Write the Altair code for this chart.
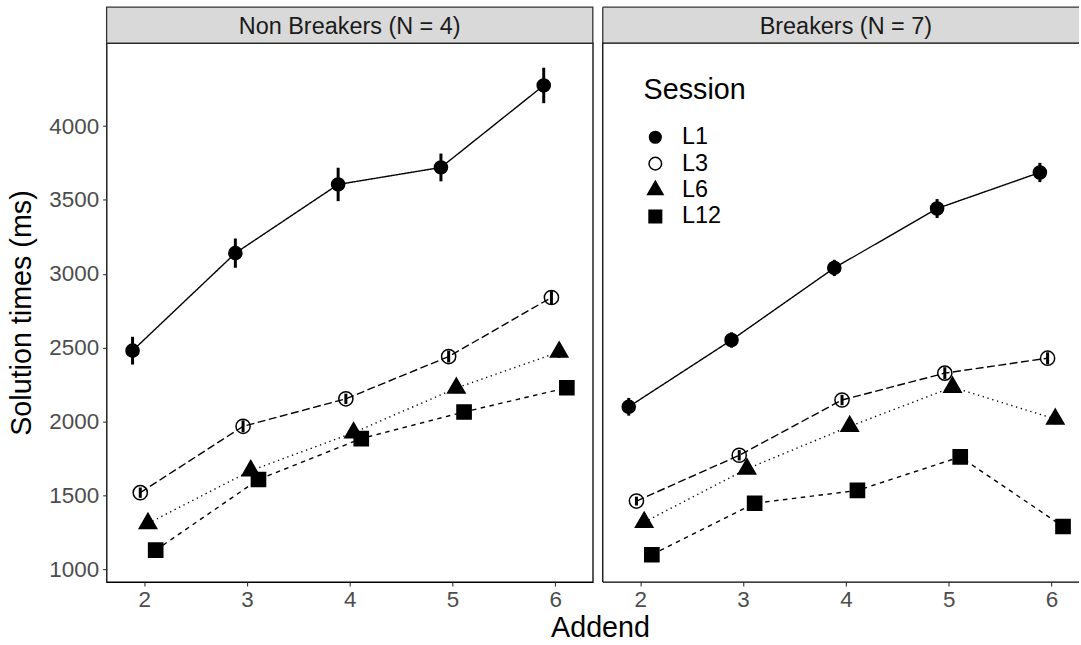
import altair as alt
import pandas as pd

panels = ["Non Breakers (N = 4)", "Breakers (N = 7)"]
sessions = ["L1", "L3", "L6", "L12"]
addends = [2, 3, 4, 5, 6]
y_ticks = [1000, 1500, 2000, 2500, 3000, 3500, 4000]

# Non Breakers: mean solution time and error (ms)
nb_L1 = [2480, 3140, 3605, 3720, 4275]
nb_L3 = [1519, 1968, 2154, 2440, 2840]
nb_L6 = [1311, 1668, 1925, 2227, 2471]
nb_L12 = [1130, 1608, 1885, 2065, 2229]
nb_L1_se = [94, 99, 113, 94, 120]
nb_L3_se = [35, 40, 35, 40, 45]
nb_L6_se = [30, 30, 35, 35, 40]
nb_L12_se = [25, 30, 30, 30, 35]

# Breakers
b_L1 = [2100, 2552, 3040, 3442, 3686]
b_L3 = [1462, 1772, 2146, 2328, 2429]
b_L6 = [1319, 1680, 1968, 2233, 2017]
b_L12 = [1099, 1447, 1534, 1761, 1290]
b_L1_se = [60, 52, 55, 64, 65]
b_L3_se = [30, 35, 35, 40, 40]
b_L6_se = [25, 30, 30, 35, 35]
b_L12_se = [25, 25, 30, 30, 30]

series = {
    panels[0]: {"L1": (nb_L1, nb_L1_se), "L3": (nb_L3, nb_L3_se),
                "L6": (nb_L6, nb_L6_se), "L12": (nb_L12, nb_L12_se)},
    panels[1]: {"L1": (b_L1, b_L1_se), "L3": (b_L3, b_L3_se),
                "L6": (b_L6, b_L6_se), "L12": (b_L12, b_L12_se)},
}
rows = []
for p, d in series.items():
    for s, (means, ses) in d.items():
        for a, m, e in zip(addends, means, ses):
            rows.append({"panel": p, "session": s, "addend": a, "mean": m, "se": e})
df = pd.DataFrame(rows)
strip_df = pd.DataFrame({"panel": panels})

FONT = "Liberation Sans"
TITLE_SIZE = 28.8
H = 541
STRIP = 36
W_LEFT = 488
W_RIGHT = 478
X_MIN, X_MAX = 1.635, 6.365
PX_PER_UNIT = W_LEFT / (X_MAX - X_MIN)
Y_DOMAIN = [914, 4562]

SHAPES = [
    "M-0.73,0A0.73,0.73 0 1,0 0.73,0A0.73,0.73 0 1,0 -0.73,0Z",
    "M-0.79,0A0.79,0.79 0 1,0 0.79,0A0.79,0.79 0 1,0 -0.79,0Z",
    "M0,-1.12L0.97,0.56L-0.97,0.56Z",
    "M-0.79,-0.79L0.79,-0.79L0.79,0.79L-0.79,0.79Z",
]
FILLS = ["black", "transparent", "black", "black"]
STROKES = ["black", "black", "black", "black"]
DASHES = [[1, 0], [8, 3.5], [1.3, 3.7], [4.5, 4.5]]

legend = alt.Legend(
    orient="none", legendX=41, legendY=33, title="Session", padding=0,
    titleFontSize=TITLE_SIZE, titleFontWeight="normal", titleColor="black", titleFont=FONT,
    titleBaseline="top", titlePadding=21,
    labelFontSize=23.5, labelColor="black", labelFont=FONT, labelOffset=15,
    symbolStrokeColor="black", symbolStrokeWidth=1.5, symbolSize=255,
    rowPadding=1.5,
)


def panel(name, width, first):
    xmax = X_MIN + width / PX_PER_UNIT
    base = alt.Chart(df).transform_filter(alt.datum.panel == name).transform_calculate(
        xd=f"datum.addend + (indexof({sessions}, datum.session) - 1.5) * 0.075",
        lo="datum.mean - datum.se",
        hi="datum.mean + datum.se",
    )
    x = alt.X("xd:Q", scale=alt.Scale(domain=[X_MIN, xmax], nice=False, zero=False),
              axis=alt.Axis(values=addends, format="d", title=None, domain=False, grid=False,
                            tickSize=4, tickColor="#333333", tickWidth=1.1,
                            labelFontSize=22.5, labelColor="#4D4D4D", labelPadding=3,
                            labelFont=FONT))
    if first:
        yaxis = alt.Axis(values=y_ticks, format="d", title="Solution times (ms)", domain=False,
                         grid=False, tickSize=4, tickColor="#333333", tickWidth=1.1,
                         labelFontSize=22.5, labelColor="#4D4D4D", labelPadding=4,
                         labelFont=FONT, titleFont=FONT, titleFontSize=TITLE_SIZE,
                         titleFontWeight="normal", titleColor="black", titlePadding=12)
    else:
        yaxis = None
    yscale = alt.Scale(domain=Y_DOMAIN, nice=False, zero=False)
    y = alt.Y("mean:Q", scale=yscale, axis=yaxis)
    leg = None if first else legend

    line = base.mark_line(color="black", strokeWidth=1.4).encode(
        x=x, y=y,
        strokeDash=alt.StrokeDash("session:N", scale=alt.Scale(domain=sessions, range=DASHES),
                                  legend=None),
        detail="session:N",
    )
    err = base.mark_rule(color="black", strokeWidth=3).encode(
        x=x, y=alt.Y("lo:Q", scale=yscale, axis=yaxis), y2="hi:Q",
    )
    pts = base.mark_point(filled=True, strokeWidth=1.5, opacity=1,
                          fillOpacity=1, strokeOpacity=1, size=324).encode(
        x=x, y=y,
        shape=alt.Shape("session:N", scale=alt.Scale(domain=sessions, range=SHAPES), legend=leg),
        fill=alt.Fill("session:N", scale=alt.Scale(domain=sessions, range=FILLS), legend=leg),
        stroke=alt.Stroke("session:N", scale=alt.Scale(domain=sessions, range=STROKES),
                          legend=leg),
    )
    sb = alt.Chart(strip_df).transform_filter(alt.datum.panel == name)
    text = sb.mark_text(fontSize=23.5, color="#1A1A1A", font=FONT, baseline="alphabetic",
                        align="center").encode(
        x=alt.value(W_LEFT / 2), y=alt.value(-STRIP + 26.6), text="panel:N")
    if first:
        rect = sb.mark_rect(fill="#D9D9D9", stroke="#333333", strokeWidth=1.3).encode(
            x=alt.value(0), x2=alt.value(width), y=alt.value(-STRIP), y2=alt.value(0))
        layers = [rect, text, line, err, pts]
        view = alt.ViewBackground(stroke="black", strokeWidth=1.3)
    else:
        rect = sb.mark_rect(fill="#D9D9D9").encode(
            x=alt.value(0), x2=alt.value(width), y=alt.value(-STRIP), y2=alt.value(0))
        r_top = sb.mark_rule(color="#333333", strokeWidth=1.3).encode(
            x=alt.value(0), x2=alt.value(width), y=alt.value(-STRIP))
        r_sl = sb.mark_rule(color="#333333", strokeWidth=1.3).encode(
            x=alt.value(0), y=alt.value(-STRIP), y2=alt.value(0))
        r_left = sb.mark_rule(color="black", strokeWidth=1.3).encode(
            x=alt.value(0), y=alt.value(0), y2=alt.value(H))
        r_ptop = sb.mark_rule(color="black", strokeWidth=1.3).encode(
            x=alt.value(0), x2=alt.value(width), y=alt.value(0))
        r_bot = sb.mark_rule(color="black", strokeWidth=1.3).encode(
            x=alt.value(0), x2=alt.value(width), y=alt.value(H))
        layers = [rect, r_top, r_sl, r_left, r_ptop, r_bot, text, line, err, pts]
        view = alt.ViewBackground(stroke="transparent")
    return alt.layer(*layers).properties(width=width, height=H, view=view)


chart = alt.hconcat(
    panel(panels[0], W_LEFT, True),
    panel(panels[1], W_RIGHT, False),
    spacing=6,
).resolve_legend(
    shape="independent", fill="independent", stroke="independent"
).properties(
    padding={"left": 7, "top": 4, "right": 0, "bottom": 4},
    title=alt.TitleParams("Addend", orient="bottom", anchor="middle", fontSize=TITLE_SIZE,
                          fontWeight="normal", color="black", font=FONT, dx=57, offset=2),
).configure(font=FONT).configure_view(stroke=None)

chart.save("out.html", embed_options={"renderer": "svg", "actions": False})
